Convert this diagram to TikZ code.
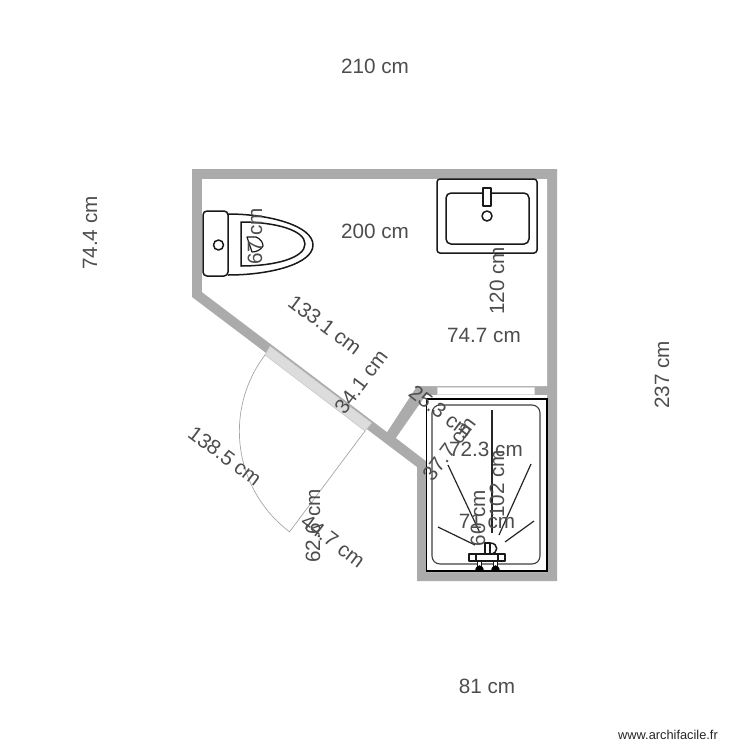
\documentclass[tikz,border=0pt]{standalone}
\usepackage{fontspec}
\setmainfont{Liberation Sans}
\definecolor{wallgrey}{HTML}{ABABAB}
\definecolor{doorgrey}{HTML}{DCDCDC}
\definecolor{dimgrey}{HTML}{4D4D4D}
\tikzset{
  dimlabel/.style={text=dimgrey,font=\fontsize{20.7}{22}\selectfont,inner sep=0pt},
  fixture/.style={draw=black!90,line width=1.5pt,line join=round},
  thinfix/.style={draw=black!85,line width=1.2pt}
}
\begin{document}
\begin{tikzpicture}[x=1pt,y=-1pt]
   \useasboundingbox (0,0) rectangle (750,750);
   % walls
   \fill[wallgrey] (192,169) -- (557,169) -- (557,581) -- (417,581) -- (417,467) -- (192,297) --cycle;
   \fill[white] (202,179) -- (547,179) -- (547,386) -- (417,386) -- (387,432) -- (202,292) --cycle;
   \fill[white] (426,395) -- (547,395) -- (547,572) -- (426,572) -- (426,461) -- (396,438) --cycle;
   % window and door
   \fill[white,draw=doorgrey] (437,387) rectangle (534,394);
   \fill[doorgrey,draw=black!25] (270,346) -- (372,423) -- (365,431) -- (265,355) --cycle;
   \draw[black!35,line width=.7pt] (265,355) arc[start angle=217.2,end angle=127,radius=126] -- (365,431);
   % toilet
   \draw[fixture] (228,214) .. controls (270,214) and (313,226) .. (313,245) .. controls (313,264) and (270,275) .. (228,275);
   \draw[fixture] (241,222) .. controls (275,222) and (305,230) .. (305,244) .. controls (305,258) and (275,266) .. (241,266) --cycle;
   \draw[fixture,rounded corners=4pt] (203,211) rectangle (228,276);
   \draw[fixture] (218.5,245) circle (5);
   \draw[fixture,line width=1.2pt] (247,237) -- (256,237) .. controls (261,239) and (263,243) .. (263,246) .. controls (261,250) and (256,252) .. (252,252) --cycle;
   % sink
   \draw[fixture,rounded corners=3pt] (437,179) rectangle (537,253);
   \draw[fixture,rounded corners=5pt] (446,193) rectangle (529,244);
   \draw[fixture,fill=white] (483,188) rectangle (491,206);
   \draw[fixture] (487,216) circle (5);
   % shower
   \draw[black,line width=1.1pt] (426.5,399) rectangle (547,571);
   \draw[black!75,line width=1.1pt,rounded corners=8pt] (432,405) rectangle (540,564);
   \draw[thinfix] (492,410) -- (492,533);
   \draw[thinfix] (448,465) -- (480,533);
   \draw[thinfix] (531,464) -- (499,535);
   \draw[thinfix] (438,527) -- (475,545);
   \draw[thinfix] (534,521) -- (505,542);
   \draw[fixture] (490,543) .. controls (499,543) and (499,554) .. (490,554);
   \draw[fixture] (485,543) rectangle (490,554);
   \draw[fixture,fill=white] (469,554) rectangle (505,561);
   \draw[fixture] (476,554) -- (476,561) (498,554) -- (498,561);
   \draw[fixture,fill=white] (477.5,561) rectangle (481.5,568);
   \draw[fixture,fill=white] (493.5,561) rectangle (497.5,568);
   \fill[black] (475,571.5) .. controls (475,563) and (484,563) .. (484,571.5) --cycle;
   \fill[black] (491,571.5) .. controls (491,563) and (500,563) .. (500,571.5) --cycle;
   % dimensions
   \node[dimlabel] (top) at (375,66) {210 cm};
   \node[dimlabel,rotate=90] (left) at (90,233) {74.4 cm};
   \node[dimlabel,rotate=90] (right) at (662,375) {237 cm};
   \node[dimlabel] (bottom) at (487,686) {81 cm};
   \node[dimlabel] (inner) at (375,231) {200 cm};
   \node[dimlabel,rotate=90] (sinkside) at (497,281) {120 cm};
   \node[dimlabel] (mid) at (484,335) {74.7 cm};
   \node[dimlabel,rotate=-37] (diag) at (325,325) {133.1 cm};
   \node[dimlabel,rotate=53] (doorw) at (361,382) {34.1 cm};
   \node[dimlabel,rotate=-37] (doorarc) at (225,456) {138.5 cm};
   \node[dimlabel,rotate=90] (doorleaf) at (313,526) {62.6 cm};
   \node[dimlabel,rotate=-37] (doorend) at (333,541) {44.7 cm};
   \node[dimlabel,rotate=90] (wc) at (255,236) {67 cm};
   \node[dimlabel,rotate=-37] (stub) at (441,412) {25.3 cm};
   \node[dimlabel,rotate=53] (stubb) at (449,449) {37.7 cm};
   \node[dimlabel] (showerw) at (486,449) {72.3 cm};
   \node[dimlabel,rotate=90] (showerh) at (497,484) {102 cm};
   \node[dimlabel,rotate=90] (showeri) at (478,518) {60 cm};
   \node[dimlabel] (showerb) at (487,521) {71 cm};
   \node[font=\fontsize{12.8}{14}\selectfont,text=black!85,inner sep=0pt] (site) at (668,735) {www.archifacile.fr};
 \end{tikzpicture}
\end{document}
